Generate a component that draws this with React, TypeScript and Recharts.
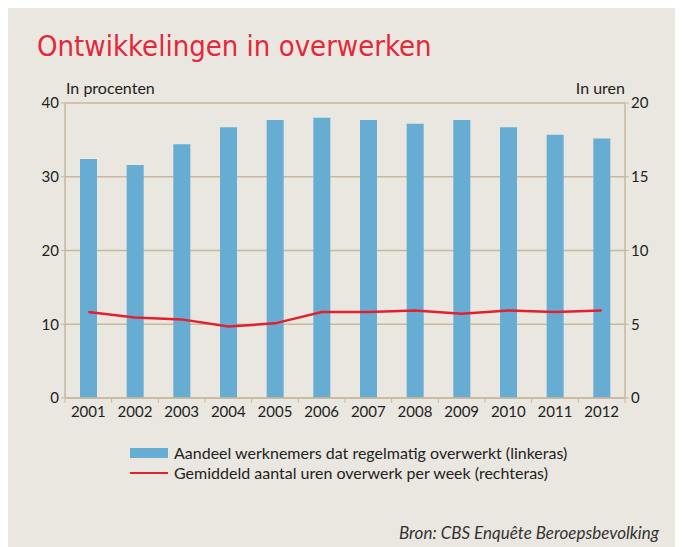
import React from "react";
import {
  ComposedChart,
  Bar,
  Line,
  XAxis,
  YAxis,
  CartesianGrid,
} from "recharts";

const years = ["2001", "2002", "2003", "2004", "2005", "2006", "2007", "2008", "2009", "2010", "2011", "2012"];
const shareOvertime = [32.4, 31.6, 34.4, 36.7, 37.7, 38.0, 37.7, 37.2, 37.7, 36.7, 35.7, 35.2];
const hoursPerWeek = [5.83, 5.45, 5.33, 4.84, 5.06, 5.83, 5.83, 5.94, 5.72, 5.94, 5.83, 5.94];
const leftTicks = [0, 10, 20, 30, 40];
const rightTicks = [0, 5, 10, 15, 20];

const data = years.map((year, i) => ({
  year,
  share: shareOvertime[i],
  hours: hoursPerWeek[i],
}));

const BLUE = "#67acd3";
const RED = "#e3202f";
const TAN = "#c9b99c";
const BG = "#e9e7e0";
const TEXT = "#222";

const W = 675;
const H = 539;
const margin = { top: 95, right: 0, bottom: 119, left: 0 };
const leftAxisW = 57;
const rightAxisW = 58;

// x-axis tick: label in the middle, tick marks on category boundaries
const YearTick = (props: any) => {
  const { x, y, payload, index } = props;
  const plotW = W - margin.left - margin.right - leftAxisW - rightAxisW;
  const half = plotW / years.length / 2;
  return (
    <g>
      <line x1={x - half} y1={y - 8} x2={x - half} y2={y - 3} stroke={TAN} strokeWidth={1} />
      {index === years.length - 1 && (
        <line x1={x + half} y1={y - 8} x2={x + half} y2={y - 3} stroke={TAN} strokeWidth={1} />
      )}
      <text x={x} y={y + 11} textAnchor="middle" fontSize={15} fill={TEXT} fontFamily="Lato">
        {payload.value}
      </text>
    </g>
  );
};

const App: React.FC = () => {
  return (
    <div style={{ position: "relative", width: W, height: H, background: BG, fontFamily: "Lato" }}>
      <div
        style={{
          position: "absolute",
          left: 29,
          top: 21,
          color: "#e3283c",
          fontSize: 29,
          fontFamily: "DejaVu Sans",
          fontStretch: "condensed",
          whiteSpace: "nowrap",
        }}
      >
        Ontwikkelingen in overwerken
      </div>
      <div style={{ position: "absolute", left: 58, top: 70, fontSize: 16, color: TEXT }}>In procenten</div>
      <div style={{ position: "absolute", right: 58, top: 70, fontSize: 16, color: TEXT }}>In uren</div>

      <ComposedChart width={W} height={H} data={data} margin={margin}>
        <CartesianGrid vertical={false} stroke={TAN} strokeWidth={1.5} yAxisId="left" />
        <XAxis
          dataKey="year"
          axisLine={{ stroke: TAN, strokeWidth: 1.5 }}
          tickLine={false}
          tick={<YearTick />}
          interval={0}
          height={30}
        />
        <YAxis
          yAxisId="left"
          domain={[0, 40]}
          ticks={leftTicks}
          width={leftAxisW}
          axisLine={{ stroke: TAN, strokeWidth: 1.5 }}
          tickLine={{ stroke: TAN }}
          tickSize={4}
          tick={{ fontSize: 15, fill: TEXT, fontFamily: "Lato" }}
          interval={0}
        />
        <YAxis
          yAxisId="right"
          orientation="right"
          domain={[0, 20]}
          ticks={rightTicks}
          width={rightAxisW}
          axisLine={{ stroke: TAN, strokeWidth: 1.5 }}
          tickLine={{ stroke: TAN }}
          tickSize={4}
          tick={{ fontSize: 15, fill: TEXT, fontFamily: "Lato" }}
          interval={0}
        />
        <Bar yAxisId="left" dataKey="share" fill={BLUE} barSize={17} isAnimationActive={false} />
        <Line
          yAxisId="right"
          dataKey="hours"
          stroke={RED}
          strokeWidth={2.5}
          dot={false}
          type="linear"
          isAnimationActive={false}
        />
      </ComposedChart>

      <div style={{ position: "absolute", left: 122, top: 435, fontSize: 16, color: TEXT, lineHeight: "20px" }}>
        <div style={{ display: "flex", alignItems: "center" }}>
          <span style={{ display: "inline-block", width: 38, height: 10, background: BLUE, marginRight: 6 }} />
          Aandeel werknemers dat regelmatig overwerkt (linkeras)
        </div>
        <div style={{ display: "flex", alignItems: "center" }}>
          <span style={{ display: "inline-block", width: 38, height: 2.5, background: RED, marginRight: 6 }} />
          Gemiddeld aantal uren overwerk per week (rechteras)
        </div>
      </div>

      <div
        style={{
          position: "absolute",
          right: 24,
          top: 514,
          fontSize: 17,
          fontStyle: "italic",
          color: "#333",
        }}
      >
        Bron: CBS Enquête Beroepsbevolking
      </div>
    </div>
  );
};

export default App;
